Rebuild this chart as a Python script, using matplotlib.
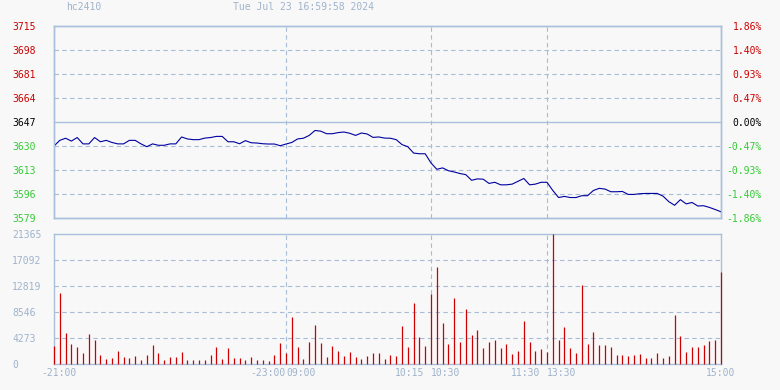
import numpy as np
import matplotlib
matplotlib.use('Agg')
import matplotlib.pyplot as plt

# hc2410 intraday, one point every 3 minutes (21:00-23:00, 09:00-10:15, 10:30-11:30, 13:30-15:00)
symbol = 'hc2410'
stamp = 'Tue Jul 23 16:59:58 2024'
prev_close = 3647

prices = [3630, 3634, 3635.5, 3633.5, 3636, 3631.5, 3631.5, 3636, 3633, 3634,
          3632.5, 3631.5, 3631.5, 3634, 3634, 3631.5, 3629.5, 3631.5, 3630.5, 3630.5,
          3631.5, 3631.5, 3636.4, 3635, 3634.5, 3634.5, 3635.6, 3636, 3636.8, 3636.8,
          3633, 3633, 3631.6, 3633.8, 3632.3, 3632.1, 3631.6, 3631.4, 3631.4, 3630.2,
          3631.4, 3632.5, 3635, 3635.5, 3637.5, 3641, 3640.5, 3638.7, 3638.7, 3639.5,
          3639.9, 3639, 3637.5, 3639.2, 3638.5, 3636.1, 3636.4, 3635.6, 3635.5, 3634.5,
          3631, 3629.5, 3625, 3624.5, 3624.5, 3618, 3613.5, 3614.5, 3612.5, 3611.6,
          3610.5, 3609.7, 3605.7, 3606.7, 3606.5, 3603.5, 3604.3, 3602.5, 3602.5, 3603,
          3605, 3607, 3602.5, 3603, 3604.3, 3604.3, 3598.5, 3593.5, 3594.3, 3593.5,
          3593.5, 3594.8, 3594.8, 3598.5, 3600, 3599.5, 3597.6, 3597.6, 3597.8, 3595.7,
          3595.7, 3596.2, 3596.4, 3596.4, 3596.4, 3594.5, 3590.6, 3588, 3592, 3589,
          3590, 3587.5, 3587.7, 3586.5, 3585, 3583.4]

volumes = [3010, 11780, 5150, 3340, 2850, 1860, 4990, 4000, 1530, 880,
           1040, 2190, 1200, 1040, 1370, 710, 1530, 3180, 1860, 710,
           1200, 1200, 2030, 710, 710, 710, 710, 1530, 2850, 880,
           2680, 1040, 1040, 710, 1200, 710, 710, 550, 1530, 3500,
           1860, 7780, 2850, 880, 3670, 6460, 3500, 1200, 3010, 2190,
           1370, 2030, 1200, 880, 1370, 1860, 1860, 880, 1530, 1370,
           6300, 2850, 10080, 4490, 3010, 11560, 16000, 6790, 3340, 10900,
           3670, 9090, 4820, 5640, 2680, 3670, 4000, 2680, 3340, 1700,
           2190, 7120, 3670, 2190, 2520, 2030, 21365, 4000, 6140, 2680,
           1860, 13040, 3340, 5310, 3180, 3180, 2850, 1530, 1530, 1370,
           1530, 1700, 1040, 1040, 1860, 1040, 1370, 8110, 4660, 2030,
           2850, 2850, 3180, 3840, 4000, 15170]

price_ticks = [3579, 3596, 3613, 3630, 3647, 3664, 3681, 3698, 3715]
vol_ticks = [0, 4273, 8546, 12819, 17092, 21365]
session_breaks = [40, 65, 85]   # 23:00/09:00, 10:15/10:30, 11:30/13:30
time_labels = ['-21:00', '-23:00', '09:00', '10:15', '10:30', '11:30', '13:30', '15:00']
label_pos = [0, 40, 40, 65, 65, 85, 85, 115]
label_ha = ['center', 'right', 'left', 'right', 'left', 'right', 'left', 'center']
label_dx = [3.5, 0, 0, -5, 0, -5, 0, 0]

bg = '#f8f8f8'
frame = '#a8c0dc'
grid_c = '#a8bcd6'
muted = '#9fb3cc'
red = '#cc0000'
green = '#33cc33'
font = 'DejaVu Sans Mono'

x = np.arange(len(prices))

fig = plt.figure(figsize=(7.8, 3.9), dpi=100, facecolor=bg)
ax = fig.add_axes([54/780, 1-218/390, 667/780, 192/390], facecolor=bg)
ax2 = fig.add_axes([54/780, 1-364.3/390, 667/780, 130/390], facecolor=bg)

# price panel
ax.plot(np.r_[0, x], np.r_[prev_close, prices], color='#0000a0', lw=0.8, zorder=3)
ax.set_xlim(0, len(prices)-1)
ax.set_ylim(price_ticks[0], price_ticks[-1])
for t in price_ticks[1:-1]:
    if t == prev_close:
        ax.axhline(t, color=frame, lw=1, zorder=1)
    else:
        ax.axhline(t, color=grid_c, lw=0.8, ls=(0, (4, 3)), zorder=1)
for b in session_breaks:
    ax.axvline(b, color=grid_c, lw=0.8, ls=(0, (4, 3)), zorder=1)
ax.set_xticks([])
ax.set_yticks(price_ticks)
ax.set_yticklabels([str(t) for t in price_ticks])
ax.tick_params(axis='y', length=0, pad=30.2, labelsize=7)
for lab, t in zip(ax.get_yticklabels(), price_ticks):
    lab.set_ha('left')
    lab.set_family(font)
    lab.set_color(red if t > prev_close else (green if t < prev_close else 'black'))

axr = ax.twinx()
axr.set_ylim(ax.get_ylim())
axr.set_yticks(price_ticks)
pct = [(t - prev_close) / prev_close * 100 for t in price_ticks]
axr.set_yticklabels(['%.2f%%' % p for p in pct])
axr.tick_params(axis='y', length=0, pad=29.5, labelsize=7)
for lab, p in zip(axr.get_yticklabels(), pct):
    lab.set_ha('right')
    lab.set_family(font)
    lab.set_color(red if p > 0.001 else (green if p < -0.001 else 'black'))

# volume panel
ax2.vlines(x, 0, volumes, color=red, lw=0.9, zorder=3, clip_on=False)
ax2.set_xlim(0, len(volumes)-1)
ax2.set_ylim(0, vol_ticks[-1])
for t in vol_ticks[1:-1]:
    ax2.axhline(t, color=grid_c, lw=0.8, ls=(0, (4, 3)), zorder=1)
for b in session_breaks:
    ax2.axvline(b, color=grid_c, lw=0.8, ls=(0, (4, 3)), zorder=1)
ax2.set_xticks([])
ax2.set_yticks(vol_ticks)
ax2.set_yticklabels([str(t) for t in vol_ticks])
ax2.tick_params(axis='y', length=0, pad=30.2, labelsize=7, labelcolor=muted)
for lab in ax2.get_yticklabels():
    lab.set_ha('left')
    lab.set_family(font)

for lab, p, ha, dx in zip(time_labels, label_pos, label_ha, label_dx):
    ax2.annotate(lab, (p, 0), xycoords=('data', 'axes fraction'),
                 xytext=(dx, -2.5), textcoords='offset points',
                 ha=ha, va='top', fontsize=7, color=muted, family=font)

for a in (ax, axr, ax2):
    for s in a.spines.values():
        s.set_color(frame)
        s.set_linewidth(1)
        s.set_zorder(2)

fig.text(66/780, 1-7/390, symbol, fontsize=7, color=muted, family=font, va='center')
fig.text(233/780, 1-7/390, stamp, fontsize=7, color=muted, family=font, va='center')

fig.savefig('out.png', dpi=100, facecolor=bg)
